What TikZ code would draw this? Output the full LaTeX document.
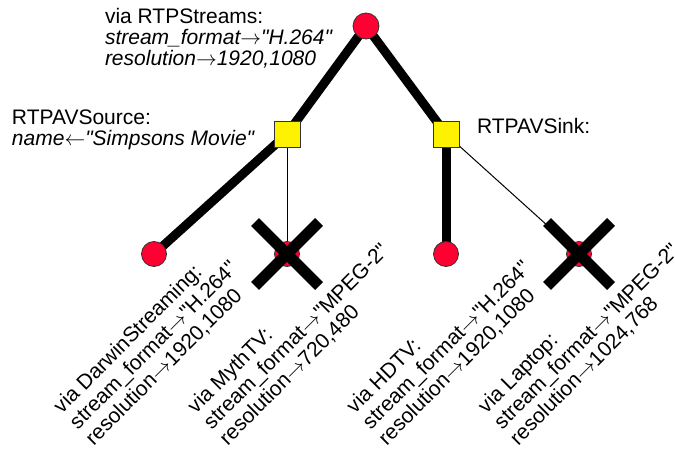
\documentclass[tikz,border=0pt]{standalone}
\usepackage{fontspec}
\setmainfont{Liberation Sans}[Ligatures=TeXOff]
\newcommand\ra{$\rightarrow$}
\newcommand\la{$\leftarrow$}
\begin{document}
\begin{tikzpicture}[x=1pt,y=1pt,
  every node/.style={inner sep=0pt, outer sep=0pt},
  lbl/.style={align=left, anchor=north west, font=\fontsize{21}{21}\selectfont},
  rlbl/.style={align=left, anchor=north west, font=\fontsize{21}{22.5}\selectfont, rotate=45},
  leaf/.style={circle, draw=black!80, line width=0.8pt, fill={rgb,255:red,255;green,0;blue,51}, minimum size=25pt},
  rootc/.style={leaf, minimum size=26pt},
  sq/.style={rectangle, draw=black!80, line width=0.8pt, fill=yellow, minimum size=26pt},
  thick edge/.style={line width=9pt},
  thin edge/.style={line width=1pt},
  cross/.style={line width=11pt}]
\useasboundingbox (0,0) rectangle (675,453);
% coordinates of the tree
\coordinate (root) at (366,427);
\coordinate (sqL) at (287,319);
\coordinate (sqR) at (446,319);
\coordinate (leafD) at (154,199);
\coordinate (leafM) at (287,199);
\coordinate (leafH) at (446,199);
\coordinate (leafL) at (579,199);
% edges (behind nodes)
\draw[thick edge] (root) -- (sqL);
\draw[thick edge] (root) -- (sqR);
\draw[thick edge] (sqL) -- (leafD);
\draw[thin edge] (sqL) -- (leafM);
\draw[thick edge] (sqR) -- (leafH);
\draw[thin edge] (sqR) -- (leafL);
% nodes on top
\node[rootc] (nroot) at (root) {};
\node[sq] (nsqL) at (sqL) {};
\node[sq] (nsqR) at (sqR) {};
\node[leaf] (nleafD) at (leafD) {};
\node[leaf] (nleafM) at (leafM) {};
\node[leaf] (nleafH) at (leafH) {};
\node[leaf] (nleafL) at (leafL) {};
% crosses
\draw[cross] ([shift={(-32,32)}]nleafM.center) -- ([shift={(32,-32)}]nleafM.center);
\draw[cross] ([shift={(-32,-32)}]nleafM.center) -- ([shift={(32,32)}]nleafM.center);
\draw[cross] ([shift={(-32,32)}]nleafL.center) -- ([shift={(32,-32)}]nleafL.center);
\draw[cross] ([shift={(-32,-32)}]nleafL.center) -- ([shift={(32,32)}]nleafL.center);
% labels
\node[lbl] (tRoot) at (105,445) {via RTPStreams:\\\itshape stream\_format\ra"H.264"\\\itshape resolution\ra1920,1080};
\node[lbl] (tSrc) at (12,343) {RTPAVSource:\\\itshape name\la"Simpsons Movie"};
\node[lbl] (tSink) at (477,335) {RTPAVSink:};
\node[rlbl] (tD) at (51.2,49.5) {via DarwinStreaming:\\stream\_format\ra"H.264"\\resolution\ra1920,1080};
\node[rlbl] (tM) at (185.2,49.5) {via MythTV:\\stream\_format\ra"MPEG-2"\\resolution\ra720,480};
\node[rlbl] (tH) at (344.2,49.5) {via HDTV:\\stream\_format\ra"H.264"\\resolution\ra1920,1080};
\node[rlbl] (tL) at (475.7,49.5) {via Laptop:\\stream\_format\ra"MPEG-2"\\resolution\ra1024,768};
\end{tikzpicture}
\end{document}
